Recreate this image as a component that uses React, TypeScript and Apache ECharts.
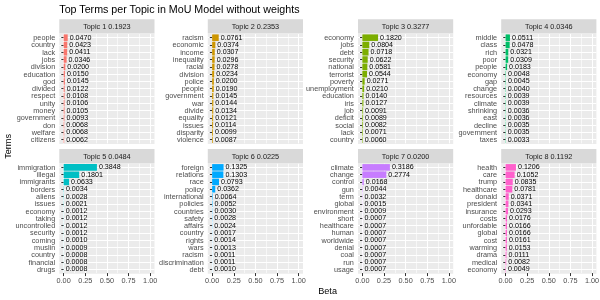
import React, { useEffect, useRef } from "react";
import * as echarts from "echarts";

const chartTitle = "Top Terms per Topic in MoU Model without weights";
const xAxisTitle = "Beta";
const yAxisTitle = "Terms";

const topicTitles = [
  "Topic 1 0.1923", "Topic 2 0.2353", "Topic 3 0.3277", "Topic 4 0.0346",
  "Topic 5 0.0484", "Topic 6 0.0225", "Topic 7 0.0200", "Topic 8 0.1192",
];

const terms1 = ["people", "country", "lack", "jobs", "division", "education", "god", "divided", "respect", "unity", "money", "government", "don", "welfare", "citizens"];
const beta1 = [0.0470, 0.0423, 0.0411, 0.0346, 0.0200, 0.0150, 0.0145, 0.0122, 0.0108, 0.0106, 0.0105, 0.0093, 0.0068, 0.0068, 0.0062];

const terms2 = ["racism", "economic", "income", "inequality", "racial", "division", "police", "people", "government", "war", "divide", "equality", "issues", "disparity", "violence"];
const beta2 = [0.0761, 0.0374, 0.0307, 0.0296, 0.0278, 0.0234, 0.0200, 0.0190, 0.0145, 0.0144, 0.0134, 0.0121, 0.0114, 0.0099, 0.0087];

const terms3 = ["economy", "jobs", "debt", "security", "national", "terrorist", "poverty", "unemployment", "education", "iris", "job", "deficit", "social", "lack", "country"];
const beta3 = [0.1820, 0.0804, 0.0718, 0.0622, 0.0581, 0.0544, 0.0271, 0.0210, 0.0140, 0.0127, 0.0091, 0.0089, 0.0082, 0.0071, 0.0060];

const terms4 = ["middle", "class", "rich", "poor", "people", "economy", "gap", "change", "resources", "climate", "shrinking", "east", "decline", "government", "taxes"];
const beta4 = [0.0511, 0.0478, 0.0321, 0.0309, 0.0183, 0.0048, 0.0045, 0.0040, 0.0039, 0.0039, 0.0036, 0.0036, 0.0035, 0.0035, 0.0033];

const terms5 = ["immigration", "illegal", "immigrants", "borders", "aliens", "issues", "economy", "taking", "uncontrolled", "security", "coming", "muslin", "country", "financial", "drugs"];
const beta5 = [0.3848, 0.1801, 0.0633, 0.0034, 0.0028, 0.0021, 0.0012, 0.0012, 0.0012, 0.0012, 0.0010, 0.0009, 0.0008, 0.0008, 0.0008];

const terms6 = ["foreign", "relations", "race", "policy", "international", "policies", "countries", "safety", "affairs", "country", "rights", "wars", "racism", "discrimination", "debt"];
const beta6 = [0.1325, 0.1303, 0.0793, 0.0362, 0.0064, 0.0052, 0.0030, 0.0028, 0.0024, 0.0017, 0.0014, 0.0013, 0.0011, 0.0011, 0.0010];

const terms7 = ["climate", "change", "control", "gun", "term", "global", "environment", "short", "healthcare", "human", "worldwide", "denial", "coal", "run", "usage"];
const beta7 = [0.3186, 0.2774, 0.0168, 0.0044, 0.0032, 0.0015, 0.0009, 0.0007, 0.0007, 0.0007, 0.0007, 0.0007, 0.0007, 0.0007, 0.0007];

const terms8 = ["health", "care", "trump", "healthcare", "donald", "president", "insurance", "costs", "unfordable", "global", "cost", "warming", "drama", "medical", "economy"];
const beta8 = [0.1206, 0.1052, 0.0835, 0.0781, 0.0371, 0.0341, 0.0293, 0.0176, 0.0166, 0.0166, 0.0161, 0.0153, 0.0111, 0.0082, 0.0049];

const topicTerms = [terms1, terms2, terms3, terms4, terms5, terms6, terms7, terms8];
const topicBetas = [beta1, beta2, beta3, beta4, beta5, beta6, beta7, beta8];
const topicColors = ["#F8766D", "#CD9600", "#7CAE00", "#00BE67", "#00BFC4", "#00A9FF", "#C77CFF", "#FF61CC"];

const FONT = "Liberation Sans, Arial, Helvetica, sans-serif";
const LABEL_GREY = "#4D4D4D";

export default function App() {
  const ref = useRef<HTMLDivElement>(null);

  useEffect(() => {
    if (!ref.current) return;
    const chart = echarts.init(ref.current, undefined, { renderer: "svg" });

    const colLeft = [59.3, 207.8, 358.0, 501.2];
    const panelW = 95.2;
    const stripTop = [19.3, 149.0];
    const stripH = 14;
    const panelTop = [33.3, 163.0];
    const panelH = 110.8;
    const pxPerUnit = panelW / 1.1;
    const leftPad = 0.05 * pxPerUnit;

    const grids: any[] = [];
    const xAxes: any[] = [];
    const yAxes: any[] = [];
    const series: any[] = [];
    const graphics: any[] = [];

    graphics.push({
      type: "text",
      x: 59.3,
      y: 9,
      style: {
        text: chartTitle,
        fill: "#000000",
        fontSize: 10.7,
        fontFamily: FONT,
        align: "left",
        verticalAlign: "middle",
      },
    });

    for (let i = 0; i < 8; i++) {
      const r = Math.floor(i / 4);
      const c = i % 4;
      const terms = topicTerms[i];
      const n = terms.length;
      const band = panelH / (n + 0.2);
      const left = colLeft[c];
      const top = panelTop[r];

      graphics.push({
        type: "rect",
        z: -10,
        silent: true,
        shape: { x: left, y: top, width: panelW, height: panelH },
        style: { fill: "#EBEBEB" },
      });
      graphics.push({
        type: "rect",
        z: -10,
        silent: true,
        shape: { x: left, y: stripTop[r], width: panelW, height: stripH },
        style: { fill: "#D9D9D9" },
      });
      graphics.push({
        type: "text",
        z: 5,
        silent: true,
        x: left + panelW / 2,
        y: stripTop[r] + stripH / 2,
        style: {
          text: topicTitles[i],
          fill: "#1A1A1A",
          fontSize: 7.3,
          fontFamily: FONT,
          align: "center",
          verticalAlign: "middle",
        },
      });

      const gA = grids.length;
      grids.push({
        left: left,
        top: top + 0.6 * band,
        width: panelW,
        height: (n - 1) * band,
        containLabel: false,
        outerBoundsMode: "none",
      });
      xAxes.push({
        gridIndex: gA,
        type: "value",
        min: -0.05,
        max: 1.05,
        show: false,
      });
      yAxes.push({
        gridIndex: gA,
        type: "category",
        data: terms,
        inverse: true,
        boundaryGap: false,
        axisLine: { show: false },
        axisTick: { show: false },
        axisLabel: { show: false },
        splitLine: { show: true, interval: 0, lineStyle: { color: "#FFFFFF", width: 1.1 } },
      });

      const gB = grids.length;
      grids.push({
        left: left + leftPad,
        top: top + 0.1 * band,
        width: pxPerUnit,
        height: n * band,
        containLabel: false,
        outerBoundsMode: "none",
      });
      const bottomRow = r === 1;
      xAxes.push({
        gridIndex: gB,
        type: "value",
        min: 0,
        max: 1,
        interval: 0.25,
        axisLine: { show: false },
        axisTick: { show: bottomRow, length: 3, lineStyle: { color: "#333333", width: 1 } },
        axisLabel: {
          show: bottomRow,
          fontSize: 7.3,
          color: LABEL_GREY,
          fontFamily: FONT,
          margin: 4,
          formatter: (v: number) => v.toFixed(2),
        },
        splitLine: { show: true, lineStyle: { color: "#FFFFFF", width: 1.1 } },
        minorTick: { show: false, splitNumber: 2 },
        minorSplitLine: { show: true, lineStyle: { color: "#FFFFFF", width: 0.6 } },
      });
      yAxes.push({
        gridIndex: gB,
        type: "category",
        data: terms,
        inverse: true,
        offset: leftPad,
        axisLine: { show: false },
        axisTick: {
          show: true,
          alignWithLabel: true,
          interval: 0,
          length: 2.3,
          lineStyle: { color: "#333333", width: 1 },
        },
        axisLabel: {
          show: true,
          interval: 0,
          fontSize: 7.3,
          color: () => LABEL_GREY,
          fontFamily: FONT,
          margin: 4.1,
        },
        splitLine: { show: false },
      });
      series.push({
        type: "bar",
        xAxisIndex: gB,
        yAxisIndex: gB,
        data: topicBetas[i],
        barCategoryGap: "10%",
        itemStyle: { color: topicColors[i] },
        silent: true,
        label: {
          show: true,
          position: "right",
          distance: 2,
          fontSize: 7.1,
          color: "#000000",
          fontFamily: FONT,
          formatter: (p: any) => Number(p.value).toFixed(4),
        },
      });
    }

    graphics.push({
      type: "text",
      x: 327.6,
      y: 291,
      style: {
        text: xAxisTitle,
        fill: "#000000",
        fontSize: 9.1,
        fontFamily: FONT,
        align: "center",
        verticalAlign: "middle",
      },
    });
    graphics.push({
      type: "text",
      x: 8,
      y: 146.4,
      rotation: Math.PI / 2,
      style: {
        text: yAxisTitle,
        fill: "#000000",
        fontSize: 9.1,
        fontFamily: FONT,
        align: "center",
        verticalAlign: "middle",
      },
    });

    chart.setOption({
      animation: false,
      grid: grids,
      xAxis: xAxes,
      yAxis: yAxes,
      series,
      graphic: { elements: graphics },
    });

    return () => {
      chart.dispose();
    };
  }, []);

  return (
    <div
      ref={ref}
      style={{
        position: "fixed",
        left: 0,
        top: 0,
        width: 600,
        height: 300,
        willChange: "transform",
      }}
    />
  );
}
